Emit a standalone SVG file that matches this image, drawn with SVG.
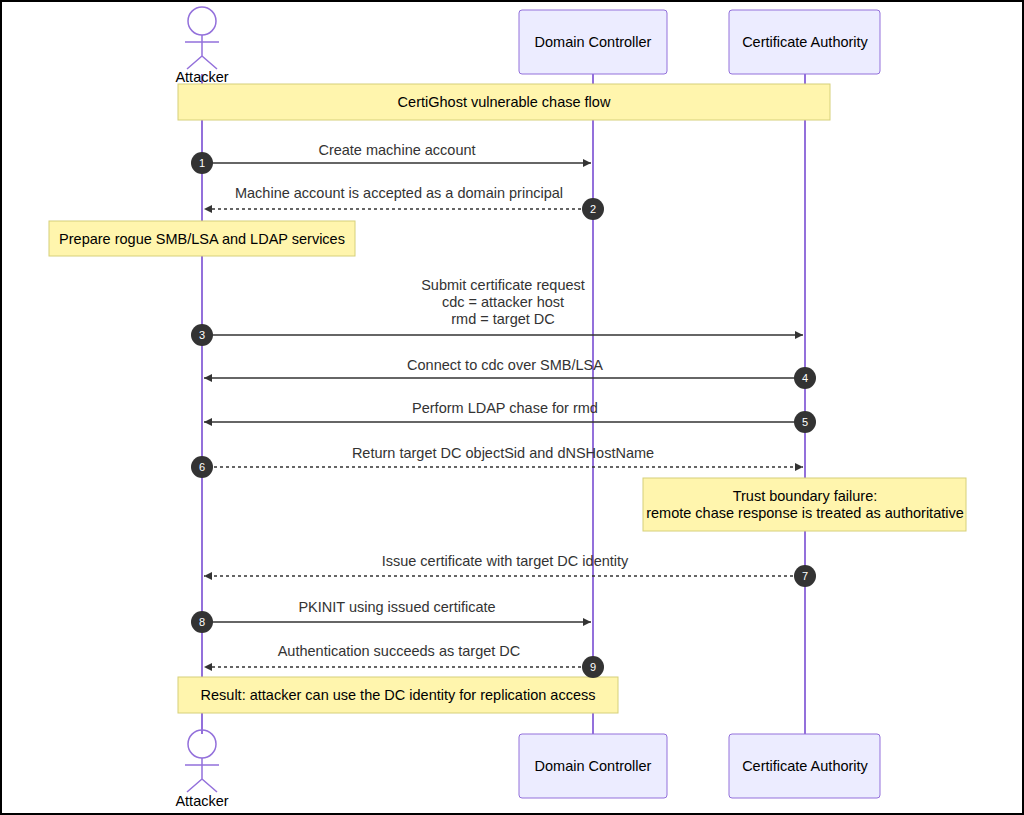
<svg xmlns="http://www.w3.org/2000/svg" width="1024" height="815" viewBox="0 0 1024 815">
<style>
text{font-family:"Liberation Sans",Arial,sans-serif;font-size:14.5px;text-anchor:middle}
.actor{fill:#ececff;stroke:#9370db;stroke-width:1}
.life{stroke:#9370db;stroke-width:2}
.note{fill:#fff5ad;stroke:#d6d07a;stroke-width:1}
.msg{stroke:#333;stroke-width:1.5;fill:none}
.dash{stroke-dasharray:3,3}
.ml{fill:#333}
.num{fill:#333}
.numt{fill:#fff;font-size:11px}
.fig{fill:none;stroke:#9370db;stroke-width:1.5}
</style>
<defs>
<marker id="ah" viewBox="0 0 10 10" refX="10" refY="5" markerWidth="8" markerHeight="8" orient="auto-start-reverse" markerUnits="userSpaceOnUse"><path d="M0,0 L10,5 L0,10 z" fill="#333"/></marker>
</defs>
<rect x="0" y="0" width="1024" height="815" fill="#fff"/>
<rect x="1" y="1" width="1022" height="813" fill="none" stroke="#000" stroke-width="2"/>
<g id="lifelines">
<line class="life" x1="202" y1="74" x2="202" y2="734"/>
<line class="life" x1="593" y1="74" x2="593" y2="734"/>
<line class="life" x1="805" y1="74" x2="805" y2="734"/>
</g>
<g id="attacker-top">
<circle class="fig" cx="202" cy="21" r="14" fill="#ececff"/>
<path class="fig" d="M202 35V56M185 42H219M202 56L187 69M202 56L217 69"/>
<text x="202" y="82">Attacker</text>
</g>
<g id="attacker-bottom">
<circle class="fig" cx="202" cy="744" r="14" fill="#ececff"/>
<path class="fig" d="M202 758V779M185 765H219M202 779L187 792M202 779L217 792"/>
<text x="202" y="806">Attacker</text>
</g>
<g id="dc-top"><rect class="actor" x="519" y="10" width="148" height="64" rx="3"/><text x="593" y="47">Domain Controller</text></g>
<g id="ca-top"><rect class="actor" x="729" y="10" width="151" height="64" rx="3"/><text x="805" y="47">Certificate Authority</text></g>
<g id="dc-bottom"><rect class="actor" x="519" y="734" width="148" height="64" rx="3"/><text x="593" y="771">Domain Controller</text></g>
<g id="ca-bottom"><rect class="actor" x="729" y="734" width="151" height="64" rx="3"/><text x="805" y="771">Certificate Authority</text></g>
<g id="note-title"><rect class="note" x="178" y="84" width="652" height="36"/><text x="504" y="107">CertiGhost vulnerable chase flow</text></g>
<g id="note-prepare"><rect class="note" x="49" y="221" width="306" height="35"/><text x="202" y="244">Prepare rogue SMB/LSA and LDAP services</text></g>
<g id="note-trust"><rect class="note" x="643" y="478" width="323" height="53"/><text x="805" y="501">Trust boundary failure:</text><text x="805" y="518">remote chase response is treated as authoritative</text></g>
<g id="note-result"><rect class="note" x="178" y="677" width="440" height="36"/><text x="398" y="700">Result: attacker can use the DC identity for replication access</text></g>
<g id="connectors">
<line class="msg" x1="202" y1="163" x2="591" y2="163" marker-end="url(#ah)"/>
<text class="ml" x="397" y="155">Create machine account</text>
<line class="msg dash" x1="593" y1="209" x2="204" y2="209" marker-end="url(#ah)"/>
<text class="ml" x="399" y="198">Machine account is accepted as a domain principal</text>
<line class="msg" x1="202" y1="335" x2="803" y2="335" marker-end="url(#ah)"/>
<text class="ml" x="503" y="290">Submit certificate request</text>
<text class="ml" x="503" y="307">cdc = attacker host</text>
<text class="ml" x="503" y="324">rmd = target DC</text>
<line class="msg" x1="805" y1="378" x2="204" y2="378" marker-end="url(#ah)"/>
<text class="ml" x="505" y="370">Connect to cdc over SMB/LSA</text>
<line class="msg" x1="805" y1="422" x2="204" y2="422" marker-end="url(#ah)"/>
<text class="ml" x="505" y="413">Perform LDAP chase for rmd</text>
<line class="msg dash" x1="202" y1="467" x2="803" y2="467" marker-end="url(#ah)"/>
<text class="ml" x="503" y="458">Return target DC objectSid and dNSHostName</text>
<line class="msg dash" x1="805" y1="576" x2="204" y2="576" marker-end="url(#ah)"/>
<text class="ml" x="505" y="566">Issue certificate with target DC identity</text>
<line class="msg" x1="202" y1="622" x2="591" y2="622" marker-end="url(#ah)"/>
<text class="ml" x="397" y="612">PKINIT using issued certificate</text>
<line class="msg dash" x1="593" y1="667" x2="204" y2="667" marker-end="url(#ah)"/>
<text class="ml" x="399" y="656">Authentication succeeds as target DC</text>
</g>
<g id="numbers">
<circle class="num" cx="202" cy="163" r="11"/><text class="numt" x="202" y="167">1</text>
<circle class="num" cx="593" cy="209" r="11"/><text class="numt" x="593" y="213">2</text>
<circle class="num" cx="202" cy="335" r="11"/><text class="numt" x="202" y="339">3</text>
<circle class="num" cx="805" cy="378" r="11"/><text class="numt" x="805" y="382">4</text>
<circle class="num" cx="805" cy="422" r="11"/><text class="numt" x="805" y="426">5</text>
<circle class="num" cx="202" cy="467" r="11"/><text class="numt" x="202" y="471">6</text>
<circle class="num" cx="805" cy="576" r="11"/><text class="numt" x="805" y="580">7</text>
<circle class="num" cx="202" cy="622" r="11"/><text class="numt" x="202" y="626">8</text>
<circle class="num" cx="593" cy="667" r="11"/><text class="numt" x="593" y="671">9</text>
</g>
</svg>
